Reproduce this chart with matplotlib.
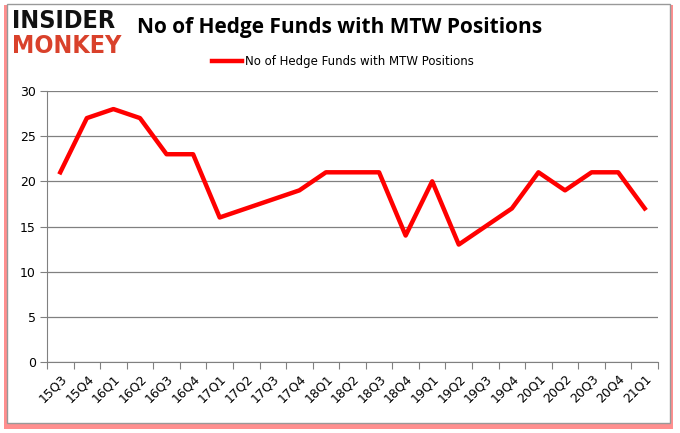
import matplotlib
matplotlib.use("Agg")
import matplotlib.pyplot as plt
from matplotlib.patches import Rectangle

quarters = ["15Q3","15Q4","16Q1","16Q2","16Q3","16Q4","17Q1","17Q2","17Q3","17Q4",
            "18Q1","18Q2","18Q3","18Q4","19Q1","19Q2","19Q3","19Q4","20Q1","20Q2",
            "20Q3","20Q4","21Q1"]
funds = [21,27,28,27,23,23,16,17,18,19,21,21,21,14,20,13,15,17,21,19,21,21,17]
yticks = [0,5,10,15,20,25,30]

plt.rcParams['font.family'] = ['DejaVu Sans']
fig = plt.figure(figsize=(6.8,4.33), dpi=100)

# frame with red shadow
fig.patches.append(Rectangle((4/680, 4/433), 669/680, 424/433, transform=fig.transFigure,
                             facecolor='#ff2020', edgecolor='none', alpha=0.5, zorder=-3))
fig.patches.append(Rectangle((7/680, 10/433), 663/680, 419/433, transform=fig.transFigure,
                             facecolor='white', edgecolor='#999999', linewidth=1, zorder=-2))

ax = fig.add_axes([47/680, (433-362)/433, (658-47)/680, (362-91)/433])
ax.patch.set_alpha(0)
x = list(range(len(quarters)))
ax.plot(x, funds, color='#ff0000', linewidth=3.2, label='No of Hedge Funds with MTW Positions')
ax.set_xlim(-0.5, len(quarters)-0.5)
ax.set_ylim(0, 30)
ax.set_yticks(yticks)
ax.set_yticklabels([str(v) for v in yticks], fontsize=9)
ax.yaxis.grid(True, color='#808080', linewidth=0.9)
ax.set_axisbelow(True)
ax.set_xticks([i - 0.5 for i in range(len(quarters)+1)], minor=False)
ax.set_xticklabels([])
ax.set_xticks(x, minor=True)
ax.set_xticklabels(quarters, minor=True, rotation=45, ha='right', rotation_mode='anchor', fontsize=9)
ax.tick_params(axis='x', which='minor', length=0, pad=7)
ax.tick_params(axis='x', which='major', length=5, color='#808080', direction='out')
ax.tick_params(axis='y', length=5, color='#808080', direction='out', pad=3)
for s in ['top','right']:
    ax.spines[s].set_visible(False)
for s in ['left','bottom']:
    ax.spines[s].set_color('#808080')

fig.text(0.5, 1-28/433, 'No of Hedge Funds with MTW Positions', ha='center', va='center',
         fontsize=15, fontweight='bold', family=['Open Sans','DejaVu Sans'])
fig.legend(loc='center', bbox_to_anchor=(0.505, 1-62/433), frameon=False, fontsize=8.5, handlelength=2.5,
           handletextpad=0.3)

fig.text(12/680, 1-21/433, 'INSIDER', fontsize=18, fontweight='heavy', color='#111111', va='center',
         ha='left', fontstretch='condensed')
fig.text(12/680, 1-46/433, 'MONKEY', fontsize=18, fontweight='heavy', color='#d9412b', va='center',
         ha='left', fontstretch='condensed')

fig.savefig('out.png', dpi=100)
